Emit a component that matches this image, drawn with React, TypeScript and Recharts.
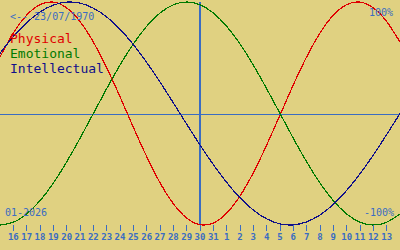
import React from "react";
import { LineChart, Line, XAxis, YAxis, ReferenceLine } from "recharts";

// day index 0 = 15 Dec, 30 = 14 Jan
const days = Array.from({ length: 31 }, (_, i) => i);
const tickLabels = [
  "15", "16", "17", "18", "19", "20", "21", "22", "23", "24", "25", "26", "27", "28", "29", "30", "31",
  "1", "2", "3", "4", "5", "6", "7", "8", "9", "10", "11", "12", "13", "14",
];
const physical = [
  0.508, 0.722, 0.882, 0.976, 0.999, 0.947, 0.825, 0.641, 0.411, 0.15, -0.123, -0.386, -0.621, -0.809,
  -0.938, -0.997, -0.982, -0.894, -0.74, -0.531, -0.283, -0.014, 0.257, 0.508, 0.722, 0.882, 0.976, 0.999,
  0.947, 0.825, 0.641,
];
const emotional = [
  -1, -0.975, -0.901, -0.782, -0.624, -0.434, -0.223, 0, 0.223, 0.434, 0.624, 0.782, 0.901, 0.975, 1,
  0.975, 0.901, 0.782, 0.624, 0.434, 0.223, 0, -0.223, -0.434, -0.624, -0.782, -0.901, -0.975, -1,
  -0.975, -0.901,
];
const intellectual = [
  0.541, 0.69, 0.815, 0.91, 0.972, 0.999, 0.99, 0.945, 0.866, 0.756, 0.618, 0.458, 0.282, 0.095, -0.095,
  -0.282, -0.458, -0.618, -0.756, -0.866, -0.945, -0.99, -0.999, -0.972, -0.91, -0.815, -0.69, -0.541,
  -0.372, -0.189, 0,
];
const xTicks = days.slice(1, 30);
const todayIndex = 15;
const legendItems = ["Physical", "Emotional", "Intellectual"];
const birthLabel = "<-- 23/07/1970";
const monthLabel = "01-2026";

const data = days.map((d, i) => ({
  d,
  physical: physical[i],
  emotional: emotional[i],
  intellectual: intellectual[i],
}));

const BG = "#e0d181";
const BLUE = "#3a6cc2";
const RED = "#e00000";
const GREEN = "#007a00";
const NAVY = "#10108a";
const MONO = "'DejaVu Sans Mono', monospace";

export default function App() {
  return (
    <div style={{ position: "absolute", left: 0, top: 0, width: 400, height: 250, background: BG }}>
      <LineChart width={400} height={250} data={data} margin={{ top: 2, right: 0, left: 0, bottom: 0 }}>
        <XAxis
          dataKey="d"
          type="number"
          domain={[0, 30]}
          ticks={xTicks}
          tickFormatter={(v: number) => tickLabels[v]}
          axisLine={false}
          tickLine={{ stroke: BLUE, shapeRendering: "crispEdges" }}
          tickSize={6}
          tickMargin={3}
          height={25}
          interval={0}
          tick={{ fill: BLUE, fontSize: 9, fontFamily: MONO, fontWeight: "bold" }}
        />
        <YAxis type="number" domain={[-1, 1]} hide />
        <ReferenceLine y={-0.012} stroke={BLUE} strokeWidth={1.3} shapeRendering="crispEdges" />
        <ReferenceLine x={todayIndex} stroke={BLUE} strokeWidth={1.3} shapeRendering="crispEdges" />
        <Line type="natural" dataKey="physical" stroke={RED} strokeWidth={1.2} dot={false} isAnimationActive={false} shapeRendering="crispEdges" />
        <Line type="natural" dataKey="emotional" stroke={GREEN} strokeWidth={1.2} dot={false} isAnimationActive={false} shapeRendering="crispEdges" />
        <Line type="natural" dataKey="intellectual" stroke={NAVY} strokeWidth={1.2} dot={false} isAnimationActive={false} shapeRendering="crispEdges" />
      </LineChart>
      <svg
        width={400}
        height={250}
        style={{ position: "absolute", left: 0, top: 0, pointerEvents: "none" }}
      >
        <text x={10} y={20} fontSize={10} fontFamily={MONO} fill={BLUE}>{birthLabel}</text>
        <text x={393} y={16} fontSize={10} fontFamily={MONO} fill={BLUE} textAnchor="end">100%</text>
        <text x={394} y={216} fontSize={10} fontFamily={MONO} fill={BLUE} textAnchor="end">-100%</text>
        <text x={5} y={216} fontSize={10} fontFamily={MONO} fill={BLUE}>{monthLabel}</text>
        <text x={10} y={42.5} fontSize={13} fontFamily={MONO} fill={RED}>{legendItems[0]}</text>
        <text x={10} y={57.5} fontSize={13} fontFamily={MONO} fill={GREEN}>{legendItems[1]}</text>
        <text x={10} y={72.7} fontSize={13} fontFamily={MONO} fill={NAVY}>{legendItems[2]}</text>
      </svg>
    </div>
  );
}
